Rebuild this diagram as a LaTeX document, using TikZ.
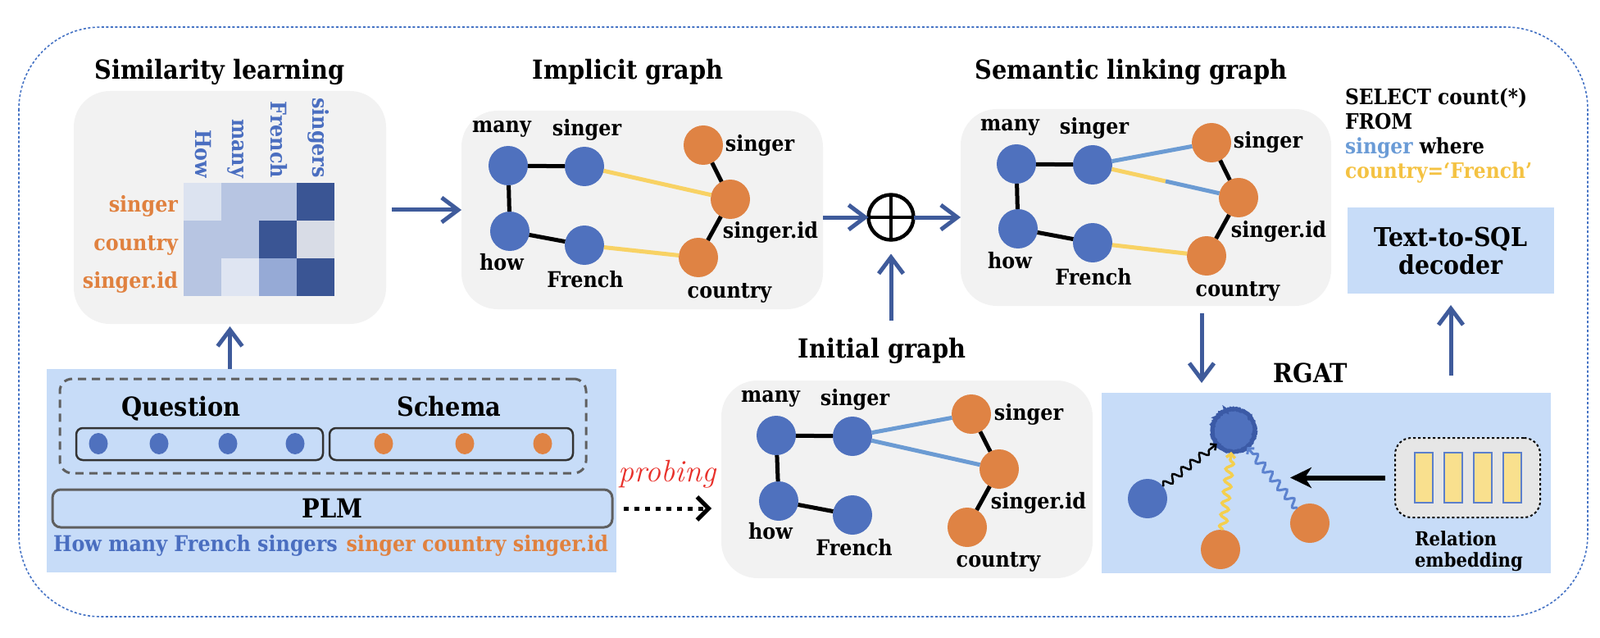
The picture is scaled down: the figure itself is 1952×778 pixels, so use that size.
\documentclass[tikz,border=0pt]{standalone}
\usepackage{fontspec}
\newfontfamily\gfont{DejaVu Serif}[FakeStretch=0.9]
\usetikzlibrary{arrows.meta,calc,shapes.geometric,decorations.pathmorphing}

\definecolor{boxgray}{HTML}{F2F2F2}
\definecolor{panelblue}{HTML}{C7DCF8}
\definecolor{nodeblue}{HTML}{4F71BE}
\definecolor{nodeorange}{HTML}{DF8344}
\definecolor{arrowblue}{HTML}{3F5B9B}
\definecolor{linkyellow}{HTML}{F8D264}
\definecolor{linkblue}{HTML}{6B9BD3}
\definecolor{wordblue}{HTML}{4A6EC0}
\definecolor{wordorange}{HTML}{E0813F}
\definecolor{frameblue}{HTML}{4472C4}
\definecolor{mdark}{HTML}{3A5594}
\definecolor{mmid}{HTML}{B7C5E2}
\definecolor{mlight}{HTML}{DCE3F0}
\definecolor{mpale}{HTML}{DFE5F2}
\definecolor{msoft}{HTML}{96AAD6}
\definecolor{mgray}{HTML}{D8DCE6}
\definecolor{probered}{HTML}{E8302A}
\definecolor{sqlblue}{HTML}{6A9BD6}
\definecolor{sqlyellow}{HTML}{F4C242}
\definecolor{dashgray}{HTML}{5F5F5F}
\definecolor{fuzzblue}{HTML}{3B5AA6}
\definecolor{relgray}{HTML}{E6E6E6}
\definecolor{barfill}{HTML}{F9E08E}
\definecolor{barline}{HTML}{5B7FCC}
\definecolor{snakeyellow}{HTML}{F4CF4E}
\definecolor{snakeblue}{HTML}{5C82CF}

\begin{document}
\begin{tikzpicture}[x=1pt, y=-1pt,
    every node/.style={inner sep=0pt, outer sep=0pt},
    graybox/.style={fill=boxgray, rounded corners=44pt},
    bluebox/.style={fill=panelblue},
    title/.style={font=\gfont\bfseries\fontsize{32}{36}\selectfont},
    lbl/.style={font=\gfont\bfseries\fontsize{26.5}{30}\selectfont},
    bn/.style={circle, fill=nodeblue, minimum size=48pt},
    on/.style={circle, fill=nodeorange, minimum size=48pt},
    dot/.style={ellipse, minimum width=23pt, minimum height=26pt},
    tie/.style={line width=5pt},
    ylink/.style={draw=linkyellow, line width=5pt},
    blink/.style={draw=linkblue, line width=5pt},
    flow/.style={draw=arrowblue, line width=5pt, -{Straight Barb[length=20pt,width=30pt]}},
    wavy/.style={decorate, decoration={snake, amplitude=4.5pt, segment length=14pt, post length=6pt}},
  ]
    \useasboundingbox (0,0) rectangle (1952,778);
    \draw[frameblue, line width=1.6pt, dash pattern=on 3pt off 2.5pt, rounded corners=100pt] (23,33) rectangle (1937,752);

    % similarity learning
    \node[graybox, minimum width=381pt, minimum height=284pt] (simbox) at (280.5,253) {};
    \node[title] (simt) at (268,88) {Similarity learning};
    \fill[mlight] (224,223) rectangle (270,269);
    \fill[mmid] (270,223) rectangle (316,269);
    \fill[mmid] (316,223) rectangle (362,269);
    \fill[mdark] (362,223) rectangle (408,269);
    \fill[mmid] (224,269) rectangle (270,315);
    \fill[mmid] (270,269) rectangle (316,315);
    \fill[mdark] (316,269) rectangle (362,315);
    \fill[mgray] (362,269) rectangle (408,315);
    \fill[mmid] (224,315) rectangle (270,361);
    \fill[mpale] (270,315) rectangle (316,361);
    \fill[msoft] (316,315) rectangle (362,361);
    \fill[mdark] (362,315) rectangle (408,361);
    \node[lbl, text=wordblue, rotate=-90, anchor=east] (c-how) at (248,217) {How};
    \node[lbl, text=wordblue, rotate=-90, anchor=east] (c-many) at (288,217) {many};
    \node[lbl, text=wordblue, rotate=-90, anchor=east] (c-french) at (340,217) {French};
    \node[lbl, text=wordblue, rotate=-90, anchor=east] (c-singers) at (389,217) {singers};
    \node[lbl, text=wordorange, anchor=east] (r-singer) at (217,251) {singer};
    \node[lbl, text=wordorange, anchor=east] (r-country) at (217,299) {country};
    \node[lbl, text=wordorange, anchor=east] (r-id) at (217,344) {singer.id};

    % implicit graph
    \node[graybox, minimum width=441pt, minimum height=242pt] (impbox) at (783.5,256) {};
    \node[title] (impt) at (766,88) {Implicit graph};
    \node[bn] (i-many) at (620,202) {};
    \node[bn] (i-singer) at (713,203) {};
    \node[bn] (i-how) at (622,282) {};
    \node[bn] (i-french) at (713,299) {};
    \node[on] (i-tsinger) at (858,177) {};
    \node[on] (i-tid) at (891,243) {};
    \node[on] (i-tcountry) at (852,314) {};
    \node[lbl] (i-many-l) at (612,157) {many};
    \node[lbl] (i-singer-l) at (716,158) {singer};
    \node[lbl] (i-how-l) at (612,320) {how};
    \node[lbl] (i-french-l) at (714,341) {French};
    \node[lbl] (i-tsinger-l) at (927,177) {singer};
    \node[lbl] (i-tid-l) at (940,283) {singer.id};
    \node[lbl] (i-tcountry-l) at (890,357) {country};
    \draw[tie] (i-many) -- (i-singer);
    \draw[tie] (i-many) -- (i-how);
    \draw[tie] (i-how) -- (i-french);
    \draw[tie] (i-tsinger) -- (i-tid);
    \draw[tie] (i-tid) -- (i-tcountry);
    \draw[ylink] (i-singer) -- (i-tid);
    \draw[ylink] (i-french) -- (i-tcountry);

    % fusion
    \node[circle, draw, line width=4.5pt, minimum size=55pt] (oplus) at (1087,265) {};
    \draw[line width=4.5pt] (oplus.north) -- (oplus.south);
    \draw[line width=4.5pt] (oplus.west) -- (oplus.east);

    % semantic linking graph
    \node[graybox, minimum width=452pt, minimum height=240pt] (sembox) at (1398,253) {};
    \node[title] (semt) at (1380,88) {Semantic linking graph};
    \node[bn] (s-many) at (1240,200) {};
    \node[bn] (s-singer) at (1333,201) {};
    \node[bn] (s-how) at (1242,279) {};
    \node[bn] (s-french) at (1333,296) {};
    \node[on] (s-tsinger) at (1478,174) {};
    \node[on] (s-tid) at (1511,241) {};
    \node[on] (s-tcountry) at (1472,312) {};
    \node[lbl] (s-many-l) at (1232,155) {many};
    \node[lbl] (s-singer-l) at (1335,156) {singer};
    \node[lbl] (s-how-l) at (1232,318) {how};
    \node[lbl] (s-french-l) at (1334,338) {French};
    \node[lbl] (s-tsinger-l) at (1547,173) {singer};
    \node[lbl] (s-tid-l) at (1560,282) {singer.id};
    \node[lbl] (s-tcountry-l) at (1510,355) {country};
    \draw[tie] (s-many) -- (s-singer);
    \draw[tie] (s-many) -- (s-how);
    \draw[tie] (s-how) -- (s-french);
    \draw[tie] (s-tsinger) -- (s-tid);
    \draw[tie] (s-tid) -- (s-tcountry);
    \draw[blink] (s-singer) -- (s-tsinger);
    \draw[ylink] (s-singer) -- ($(s-singer)!0.5!(s-tid)$);
    \draw[blink] ($(s-singer)!0.5!(s-tid)$) -- (s-tid);
    \draw[ylink] (s-french) -- (s-tcountry);

    % initial graph
    \node[graybox, minimum width=453pt, minimum height=241pt] (inibox) at (1106.5,584.5) {};
    \node[title] (init) at (1076,428) {Initial graph};
    \node[bn] (n-many) at (947,531) {};
    \node[bn] (n-singer) at (1040,532) {};
    \node[bn] (n-how) at (950,611) {};
    \node[bn] (n-french) at (1040,628) {};
    \node[on] (n-tsinger) at (1185,505) {};
    \node[on] (n-tid) at (1219,572) {};
    \node[on] (n-tcountry) at (1180,643) {};
    \node[lbl] (n-many-l) at (940,486) {many};
    \node[lbl] (n-singer-l) at (1043,487) {singer};
    \node[lbl] (n-how-l) at (940,648) {how};
    \node[lbl] (n-french-l) at (1042,668) {French};
    \node[lbl] (n-tsinger-l) at (1255,505) {singer};
    \node[lbl] (n-tid-l) at (1267,613) {singer.id};
    \node[lbl] (n-tcountry-l) at (1218,685) {country};
    \draw[tie] (n-many) -- (n-singer);
    \draw[tie] (n-many) -- (n-how);
    \draw[tie] (n-how) -- (n-french);
    \draw[tie] (n-tsinger) -- (n-tid);
    \draw[tie] (n-tid) -- (n-tcountry);
    \draw[blink] (n-singer) -- (n-tsinger);
    \draw[blink] (n-singer) -- (n-tid);

    % encoder input
    \node[bluebox, minimum width=695pt, minimum height=248pt] (panel) at (404.5,574) {};
    \node[draw=dashgray, line width=3pt, dash pattern=on 10pt off 7pt, rounded corners=15pt, minimum width=642pt, minimum height=115pt] (inbox) at (394,519.5) {};
    \node[title] (quest) at (221,498) {Question};
    \node[title] (schem) at (548,496) {Schema};
    \node[draw=black!80, line width=2.5pt, rounded corners=8pt, minimum width=301pt, minimum height=39pt] (qbox) at (243.5,541.5) {};
    \node[draw=black!80, line width=2.5pt, rounded corners=8pt, minimum width=297pt, minimum height=39pt] (sbox) at (550.5,541.5) {};
    \node[dot, fill=nodeblue] (q1) at (120,541) {};
    \node[dot, fill=nodeblue] (q2) at (194,541) {};
    \node[dot, fill=nodeblue] (q3) at (278,541) {};
    \node[dot, fill=nodeblue] (q4) at (360,541) {};
    \node[dot, fill=nodeorange] (t1) at (468,541) {};
    \node[dot, fill=nodeorange] (t2) at (567,541) {};
    \node[dot, fill=nodeorange] (t3) at (662,541) {};
    \node[title, draw=dashgray, line width=3pt, rounded corners=10pt, minimum width=683pt, minimum height=46pt] (plm) at (405.5,620) {PLM};
    \node[lbl, text=wordblue, anchor=base west] (qwords) at (65,672) {How many French singers};
    \node[lbl, text=wordorange, anchor=base east] (swords) at (742,672) {singer country singer.id};
    \node[text=probered, font=\itshape\fontsize{38}{40}\selectfont] (probe) at (814,578) {probing};

    % rgat
    \node[bluebox, minimum width=548pt, minimum height=220pt] (rgatbox) at (1618,589) {};
    \node[title] (rgatt) at (1599,455) {RGAT};
    \node[circle, minimum size=52pt, fill=nodeblue, draw=fuzzblue, line width=5pt, decorate, decoration={random steps, segment length=1pt, amplitude=0.7pt}] (r-c) at (1505,525) {};
    \node[bn] (r-q) at (1400,608) {};
    \node[on] (r-s1) at (1489,670) {};
    \node[on] (r-s2) at (1598,638) {};
    \draw[wavy, line width=2.5pt, -{Straight Barb[length=5pt,width=10pt]}] (r-q) -- (r-c);
    \draw[wavy, snakeyellow, line width=3.5pt, -{Straight Barb[length=5pt,width=11pt]}] (r-s1) -- (r-c);
    \draw[wavy, snakeblue, line width=3pt, -{Straight Barb[length=5pt,width=11pt]}] (r-s2) -- (r-c);
    \node[fill=relgray, draw, line width=2pt, dash pattern=on 3pt off 3pt, rounded corners=20pt, minimum width=177pt, minimum height=97pt] (relbox) at (1790.5,582.5) {};
    \node[fill=barfill, draw=barline, line width=2pt, minimum width=22pt, minimum height=61pt] (bar1) at (1737,582.5) {};
    \node[fill=barfill, draw=barline, line width=2pt, minimum width=22pt, minimum height=61pt] (bar2) at (1773,582.5) {};
    \node[fill=barfill, draw=barline, line width=2pt, minimum width=22pt, minimum height=61pt] (bar3) at (1809,582.5) {};
    \node[fill=barfill, draw=barline, line width=2pt, minimum width=22pt, minimum height=61pt] (bar4) at (1845,582.5) {};
    \node[anchor=north west, align=left, font=\gfont\bfseries\fontsize{23.5}{26}\selectfont] (rel) at (1726,648) {Relation\\embedding};
    \coordinate (relend) at (1574,582.5);
    \draw[line width=6pt, shorten <=12pt, -{Stealth[length=26pt,width=25pt,inset=8pt]}] (relbox.west) -- (relend);

    % decoder
    \node[bluebox, minimum width=252pt, minimum height=105pt, align=center, font=\gfont\bfseries\fontsize{31.6}{34}\selectfont] (decoder) at (1770,305.5) {Text-to-SQL\\decoder};
    \node[anchor=north west, align=left, font=\gfont\bfseries\fontsize{26}{30}\selectfont] (sql) at (1641,108) {SELECT count(*)\\FROM\\\textcolor{sqlblue}{singer} where\\\textcolor{sqlyellow}{country=‘French’}};

    % arrows
    \coordinate (drop) at (1466,0);
    \draw[flow, shorten >=3pt] (panel.north -| simbox) -- (simbox.south);
    \draw[flow, shorten <=7pt] (simbox.east |- impbox) -- (impbox.west);
    \draw[flow] (impbox.east |- oplus) -- (oplus.west);
    \draw[flow] (oplus.east) -- (sembox.west |- oplus);
    \draw[flow, shorten <=21pt, shorten >=17pt] (init.north -| oplus) -- (oplus.south);
    \draw[flow, shorten <=9pt, shorten >=12pt] (sembox.south -| drop) -- (rgatbox.north -| drop);
    \draw[flow, shorten <=21pt, shorten >=14pt] (rgatbox.north -| decoder) -- (decoder.south);
    \draw[line width=5pt, dash pattern=on 6pt off 7pt, shorten <=14pt, shorten >=12pt, -{Straight Barb[length=14pt,width=28pt]}] (plm.east) -- (inibox.west |- plm);
  \end{tikzpicture}
\end{document}
